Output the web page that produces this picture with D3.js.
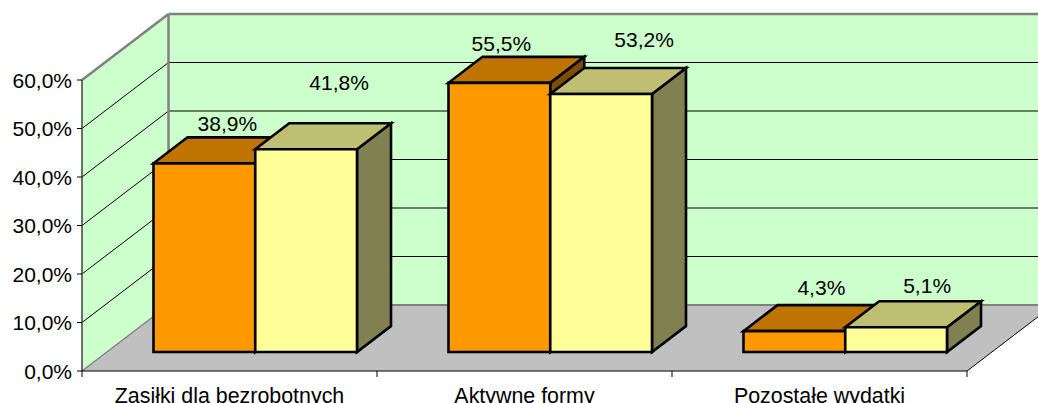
<!DOCTYPE html>
<html><head><meta charset="utf-8">
<script src="https://cdn.jsdelivr.net/npm/d3@7/dist/d3.min.js"></script>
<style>html,body{margin:0;padding:0;background:#fff;overflow:hidden}svg{display:block}text{font-family:"Liberation Sans",Arial,sans-serif;fill:#000}</style>
</head><body><svg id="c" width="1038" height="403"></svg>
<script>
const categories = ["Zasiłki dla bezrobotnych","Aktywne formy","Pozostałe wydatki"];
const seriesA = [38.9,55.5,4.3];
const seriesB = [41.8,53.2,5.1];
const yTicks = [0,10,20,30,40,50,60];
const fmt = v => v.toFixed(1).replace(".",",")+"%";

const W=1038,H=403,FS=21;
const svg=d3.select("#c");
const x=d3.scaleBand().domain(categories).range([82,967]);
const y=d3.scaleLinear().domain([0,60]).range([371,80]);
const wallD=[86.5,-66], barD=[34,-26], barShift=[0,-19];
const sub=d3.scaleBand().domain(["A","B"]).range([71.5,71.5+203.5]);
const pts=a=>a.map(p=>p.join(",")).join(" ");
const poly=(a,fill,stroke,sw)=>svg.append("polygon").attr("points",pts(a)).attr("fill",fill).attr("stroke",stroke||"none").attr("stroke-width",sw||0).attr("stroke-linejoin","miter");
const line=(x1,y1,x2,y2,c,w)=>svg.append("line").attr("x1",x1).attr("y1",y1).attr("x2",x2).attr("y2",y2).attr("stroke",c).attr("stroke-width",w);

const xL=x.range()[0],xR=x.range()[1],y0=y(0),yT=y(60);
const bx=xL+wallD[0],bB=y0+wallD[1],bT=yT+wallD[1];
// walls
poly([[bx,bT],[W+5,bT],[W+5,bB],[bx,bB]],"#CCFFCC");
poly([[xL,y0],[bx,bB],[bx,bT],[xL,yT]],"#CCFFCC");
// floor
poly([[xL,y0],[xR,y0],[xR+wallD[0],bB],[bx,bB]],"#C0C0C0");
// gridlines
yTicks.slice(1,-1).forEach(t=>{
  const v=y(t);
  line(xL,v,bx,v+wallD[1],"#000",1);
  line(bx,v+wallD[1],W,v+wallD[1],"#000",1);
});
// wall borders
line(xL,yT,bx,bT,"#808080",2.5);
line(bx,bT,W,bT,"#808080",2.5);
line(bx,bT,bx,bB,"#808080",2.5);
line(bx,bB,W,bB,"#808080",2);
line(xL,y0,bx,bB,"#808080",1.5);
// axes
line(xL,yT,xL,y0,"#404040",1.5);
line(xL,y0,xR,y0,"#000",1.2);
line(xR,y0,xR+wallD[0],bB,"#000",1);
yTicks.forEach(t=>{
  line(xL-5,y(t),xL,y(t),"#000",1);
  svg.append("text").attr("x",xL-10).attr("y",y(t)+7.5).attr("text-anchor","end").attr("font-size",FS).text(fmt(t));
});
[0,1,2,3].forEach(i=>{
  const px=xL+i*x.bandwidth();
  line(px,y0,px,y0+6,"#000",1);
});
categories.forEach(c=>{
  svg.append("text").attr("x",x(c)+x.bandwidth()/2).attr("y",402.5).attr("text-anchor","middle").attr("font-size",21.4).text(c);
});
// bars
const styles={A:["#FF9900","#BF7300","#804D00"],B:["#FFFF99","#BFBF73","#808050"]};
const labelOffsets={A:[[6,-6],[-15,-6],[10,-10]],B:[[16,-33],[26,-21],[14,-8]]};
const series={A:seriesA,B:seriesB};
const labels=[];
categories.forEach((c,i)=>{
  ["A","B"].forEach(k=>{
    const v=series[k][i],[fc,tc,sc]=styles[k];
    const x1=x(c)+sub(k),x2=x1+sub.bandwidth();
    const yb=y0+barShift[1],yt=y(v)+barShift[1];
    const d=barD,sw=2.6;
    poly([[x2,yt],[x2+d[0],yt+d[1]],[x2+d[0],yb+d[1]],[x2,yb]],sc,"#000",sw);
    poly([[x1,yt],[x2,yt],[x2+d[0],yt+d[1]],[x1+d[0],yt+d[1]]],tc,"#000",sw);
    poly([[x1,yt],[x2,yt],[x2,yb],[x1,yb]],fc,"#000",sw);
    const o=labelOffsets[k][i];
    labels.push({x:x1+sub.bandwidth()/2+d[0]/2+o[0],y:yt+d[1]+o[1],t:fmt(v)});
  });
});
labels.forEach(l=>svg.append("text").attr("x",l.x).attr("y",l.y).attr("text-anchor","middle").attr("font-size",FS).text(l.t));
</script></body></html>
